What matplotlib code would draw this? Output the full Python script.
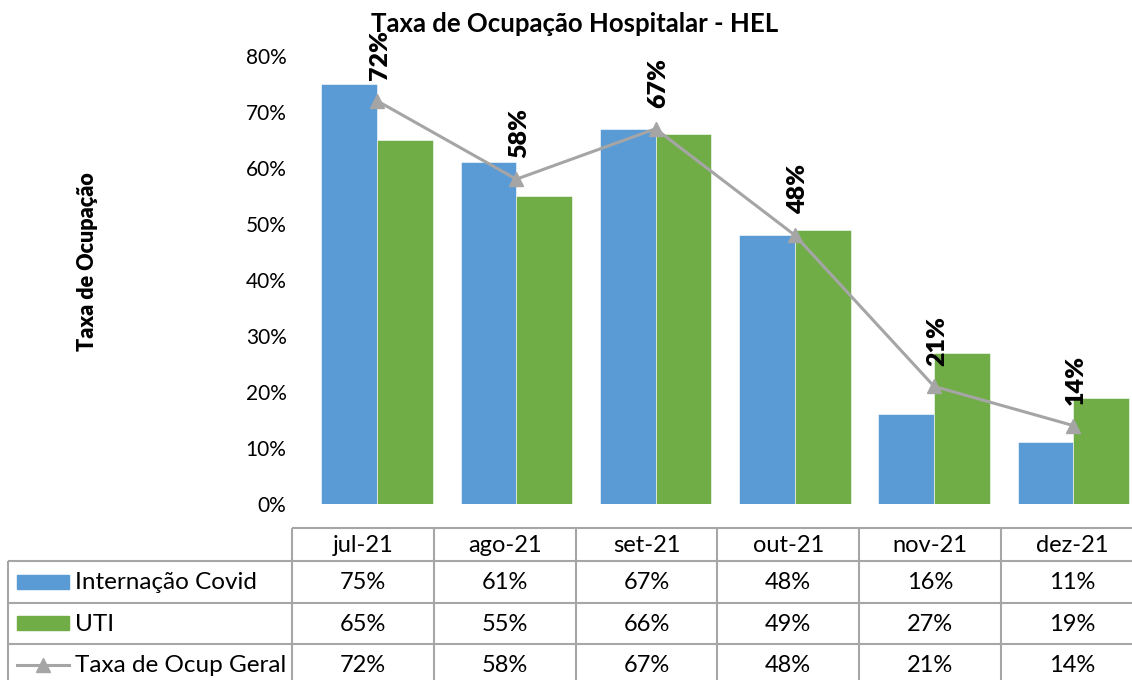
import matplotlib
matplotlib.use("Agg")
import matplotlib.pyplot as plt
from matplotlib.patches import Rectangle

plt.rcParams["font.family"] = ["Lato", "DejaVu Sans"]

# data
months = ["jul-21", "ago-21", "set-21", "out-21", "nov-21", "dez-21"]
internacao = [75, 61, 67, 48, 16, 11]
uti = [65, 55, 66, 49, 27, 19]
geral = [72, 58, 67, 48, 21, 14]
series_names = ["Internação Covid", "UTI", "Taxa de Ocup Geral"]

BLUE = "#5B9BD5"
GREEN = "#70AD47"
GRAY = "#A5A5A5"
W, H = 1132, 680

fig = plt.figure(figsize=(W / 100, H / 100), dpi=100)

# main chart axes (pixel based placement)
left, right, bottom, top = 307.4, 1143, 504, 56
ax = fig.add_axes([left / W, (H - bottom) / H, (right - left) / W, (bottom - top) / H])
x = list(range(len(months)))
ax.bar([i - 0.2 for i in x], [v / 100 for v in internacao], width=0.4, color=BLUE,
       edgecolor="white", linewidth=0.4)
ax.bar([i + 0.2 for i in x], [v / 100 for v in uti], width=0.4, color=GREEN,
       edgecolor="white", linewidth=0.4)
ax.plot(x, [v / 100 for v in geral], color=GRAY, linewidth=2.2, marker="^", markersize=10,
        zorder=3)
for i, v in enumerate(geral):
    ax.annotate(f"{v}%", (i, v / 100), xytext=(2, 15), textcoords="offset points",
                rotation=90, ha="center", va="bottom", fontsize=18, fontweight="heavy",
                annotation_clip=False)

ax.set_xlim(-0.5, 5.5)
ax.set_ylim(0, 0.8)
ax.set_yticks([i / 10 for i in range(9)])
ax.set_yticklabels([f"{i * 10}%" for i in range(9)], fontsize=15)
ax.tick_params(axis="y", length=0, pad=15)
ax.set_xticks([])
for s in ax.spines.values():
    s.set_visible(False)

fig.text(575 / W, 1 - 24 / H, "Taxa de Ocupação Hospitalar - HEL", ha="center", va="center",
         fontsize=18.5, fontweight="bold")
fig.text(88 / W, 1 - 262 / H, "Taxa de Ocupação", rotation=90, ha="center", va="center",
         fontsize=15.5, fontweight="heavy")

# data table drawn in pixel coordinates
tb = fig.add_axes([0, 0, 1, 1], zorder=-1)
tb.set_xlim(0, W)
tb.set_ylim(H, 0)
tb.axis("off")
tb.patch.set_alpha(0)

col_x = [292 + 141.8 * k for k in range(7)]
row_y = [528, 561, 602.5, 644, 685.5]
lc = "#A6A6A6"
tb.hlines(row_y[0], col_x[0], col_x[-1], color=lc, linewidth=1.5)
for y in row_y[1:]:
    tb.hlines(y, 8, col_x[-1], color=lc, linewidth=1.5)
tb.vlines(8, row_y[1], row_y[-1], color=lc, linewidth=1.5)
for cx in col_x:
    tb.vlines(cx, row_y[0], row_y[-1], color=lc, linewidth=1.5)

for k, m in enumerate(months):
    cx = (col_x[k] + col_x[k + 1]) / 2
    tb.text(cx, (row_y[0] + row_y[1]) / 2 + 1, m, ha="center", va="center", fontsize=17)
    for r, vals in enumerate([internacao, uti, geral]):
        cy = (row_y[r + 1] + row_y[r + 2]) / 2 + 1
        tb.text(cx, cy, f"{vals[k]}%", ha="center", va="center", fontsize=17)

for r, name in enumerate(series_names):
    cy = (row_y[r + 1] + row_y[r + 2]) / 2
    if r < 2:
        tb.add_patch(Rectangle((17, cy - 7), 52, 14, color=[BLUE, GREEN][r]))
    else:
        tb.plot([17, 69], [cy, cy], color=GRAY, linewidth=2.2)
        tb.plot([43], [cy], color=GRAY, marker="^", markersize=10)
    tb.text(75, cy + 1, name, ha="left", va="center", fontsize=17.5)

fig.savefig("out.png", dpi=100)
